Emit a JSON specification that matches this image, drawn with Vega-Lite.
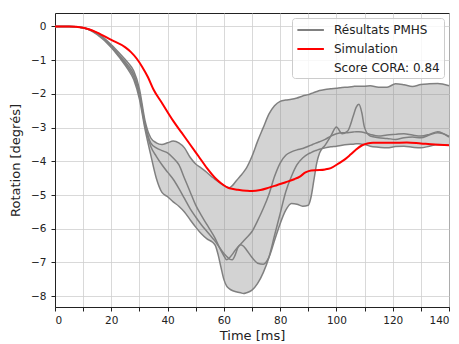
{
"$schema":"https://vega.github.io/schema/vega-lite/v6.json",
"width":394,"height":294,
"autosize":"none",
"padding":{"left":55,"top":13,"right":10,"bottom":37},
"config":{
"font":"DejaVu Sans",
"view":{"stroke":"#222","strokeWidth":1},
"axis":{"gridColor":"#cfcfcf","gridWidth":0.8,"domainColor":"#222","tickColor":"#222","labelColor":"#222","titleColor":"#222","labelFontSize":10.5,"titleFontSize":13,"titleFontWeight":"normal","tickSize":4},
"axisX":{"title":"Time [ms]","values":[0,20,40,60,80,100,120,140],"labelPadding":4,"titlePadding":4},
"axisY":{"title":"Rotation [degrés]","values":[-8,-7,-6,-5,-4,-3,-2,-1,0],"labelPadding":5,"titlePadding":8}
},
"datasets":{
"pmhs":[
{"t":0,"r":1,"v":0},{"t":5,"r":1,"v":0},{"t":10,"r":1,"v":-0.04},{"t":15,"r":1,"v":-0.19},{"t":20,"r":1,"v":-0.54},{"t":23,"r":1,"v":-0.8},{"t":26,"r":1,"v":-1.08},{"t":28,"r":1,"v":-1.32},{"t":30,"r":1,"v":-1.85},{"t":32,"r":1,"v":-2.8},{"t":34,"r":1,"v":-3.3},{"t":36,"r":1,"v":-3.45},{"t":38,"r":1,"v":-3.5},{"t":40,"r":1,"v":-3.45},{"t":42,"r":1,"v":-3.4},{"t":44,"r":1,"v":-3.45},{"t":46,"r":1,"v":-3.6},{"t":48,"r":1,"v":-3.88},{"t":50,"r":1,"v":-4.08},{"t":52,"r":1,"v":-4.2},{"t":54,"r":1,"v":-4.33},{"t":56,"r":1,"v":-4.48},{"t":57,"r":1,"v":-4.54},{"t":58,"r":1,"v":-4.6},{"t":59,"r":1,"v":-4.66},{"t":60,"r":1,"v":-4.72},{"t":61,"r":1,"v":-4.76},{"t":62,"r":1,"v":-4.78},{"t":63,"r":1,"v":-4.72},{"t":64,"r":1,"v":-4.62},{"t":65,"r":1,"v":-4.52},{"t":66,"r":1,"v":-4.42},{"t":67,"r":1,"v":-4.32},{"t":68,"r":1,"v":-4.2},{"t":70,"r":1,"v":-3.85},{"t":72,"r":1,"v":-3.4},{"t":74,"r":1,"v":-3.0},{"t":76,"r":1,"v":-2.6},{"t":78,"r":1,"v":-2.35},{"t":80,"r":1,"v":-2.22},{"t":82,"r":1,"v":-2.18},{"t":84,"r":1,"v":-2.16},{"t":86,"r":1,"v":-2.12},{"t":88,"r":1,"v":-2.06},{"t":90,"r":1,"v":-2.02},{"t":91,"r":1,"v":-1.99},{"t":92,"r":1,"v":-1.96},{"t":93,"r":1,"v":-1.93},{"t":94,"r":1,"v":-1.9},{"t":96,"r":1,"v":-1.87},{"t":98,"r":1,"v":-1.85},{"t":100,"r":1,"v":-1.83},{"t":102,"r":1,"v":-1.81},{"t":104,"r":1,"v":-1.8},{"t":106,"r":1,"v":-1.78},{"t":107,"r":1,"v":-1.77},{"t":108,"r":1,"v":-1.77},{"t":109,"r":1,"v":-1.77},{"t":110,"r":1,"v":-1.77},{"t":112,"r":1,"v":-1.76},{"t":115,"r":1,"v":-1.8},{"t":118,"r":1,"v":-1.8},{"t":121,"r":1,"v":-1.7},{"t":124,"r":1,"v":-1.73},{"t":127,"r":1,"v":-1.78},{"t":130,"r":1,"v":-1.72},{"t":133,"r":1,"v":-1.7},{"t":136,"r":1,"v":-1.69},{"t":140,"r":1,"v":-1.76},
{"t":0,"r":2,"v":0},{"t":5,"r":2,"v":0},{"t":10,"r":2,"v":-0.04},{"t":15,"r":2,"v":-0.21},{"t":20,"r":2,"v":-0.58},{"t":23,"r":2,"v":-0.87},{"t":26,"r":2,"v":-1.16},{"t":28,"r":2,"v":-1.42},{"t":30,"r":2,"v":-1.98},{"t":32,"r":2,"v":-2.9},{"t":34,"r":2,"v":-3.45},{"t":36,"r":2,"v":-3.6},{"t":38,"r":2,"v":-3.68},{"t":40,"r":2,"v":-3.75},{"t":42,"r":2,"v":-3.9},{"t":44,"r":2,"v":-4.1},{"t":46,"r":2,"v":-4.5},{"t":48,"r":2,"v":-4.9},{"t":50,"r":2,"v":-5.3},{"t":52,"r":2,"v":-5.6},{"t":54,"r":2,"v":-5.88},{"t":56,"r":2,"v":-6.15},{"t":57,"r":2,"v":-6.3},{"t":58,"r":2,"v":-6.48},{"t":59,"r":2,"v":-6.65},{"t":60,"r":2,"v":-6.8},{"t":61,"r":2,"v":-6.92},{"t":62,"r":2,"v":-6.86},{"t":63,"r":2,"v":-6.76},{"t":64,"r":2,"v":-6.64},{"t":65,"r":2,"v":-6.54},{"t":66,"r":2,"v":-6.45},{"t":67,"r":2,"v":-6.36},{"t":68,"r":2,"v":-6.27},{"t":70,"r":2,"v":-6.08},{"t":72,"r":2,"v":-5.76},{"t":74,"r":2,"v":-5.4},{"t":76,"r":2,"v":-4.98},{"t":78,"r":2,"v":-4.45},{"t":80,"r":2,"v":-4.05},{"t":82,"r":2,"v":-3.82},{"t":84,"r":2,"v":-3.72},{"t":86,"r":2,"v":-3.66},{"t":88,"r":2,"v":-3.62},{"t":90,"r":2,"v":-3.55},{"t":91,"r":2,"v":-3.52},{"t":92,"r":2,"v":-3.48},{"t":93,"r":2,"v":-3.45},{"t":94,"r":2,"v":-3.42},{"t":96,"r":2,"v":-3.35},{"t":98,"r":2,"v":-3.25},{"t":100,"r":2,"v":-3.18},{"t":102,"r":2,"v":-3.15},{"t":104,"r":2,"v":-3.15},{"t":106,"r":2,"v":-3.13},{"t":107,"r":2,"v":-3.12},{"t":108,"r":2,"v":-3.12},{"t":109,"r":2,"v":-3.13},{"t":110,"r":2,"v":-3.15},{"t":112,"r":2,"v":-3.2},{"t":115,"r":2,"v":-3.25},{"t":118,"r":2,"v":-3.22},{"t":121,"r":2,"v":-3.2},{"t":124,"r":2,"v":-3.18},{"t":127,"r":2,"v":-3.22},{"t":130,"r":2,"v":-3.25},{"t":133,"r":2,"v":-3.2},{"t":136,"r":2,"v":-3.12},{"t":140,"r":2,"v":-3.28},
{"t":0,"r":3,"v":0},{"t":5,"r":3,"v":0},{"t":10,"r":3,"v":-0.04},{"t":15,"r":3,"v":-0.22},{"t":20,"r":3,"v":-0.6},{"t":23,"r":3,"v":-0.9},{"t":26,"r":3,"v":-1.22},{"t":28,"r":3,"v":-1.5},{"t":30,"r":3,"v":-2.05},{"t":32,"r":3,"v":-2.95},{"t":34,"r":3,"v":-3.55},{"t":36,"r":3,"v":-3.85},{"t":38,"r":3,"v":-4.1},{"t":40,"r":3,"v":-4.32},{"t":42,"r":3,"v":-4.53},{"t":44,"r":3,"v":-4.8},{"t":46,"r":3,"v":-5.1},{"t":48,"r":3,"v":-5.4},{"t":50,"r":3,"v":-5.65},{"t":52,"r":3,"v":-5.88},{"t":54,"r":3,"v":-6.08},{"t":56,"r":3,"v":-6.28},{"t":57,"r":3,"v":-6.38},{"t":58,"r":3,"v":-6.5},{"t":59,"r":3,"v":-6.62},{"t":60,"r":3,"v":-6.73},{"t":61,"r":3,"v":-6.82},{"t":62,"r":3,"v":-6.9},{"t":63,"r":3,"v":-6.92},{"t":64,"r":3,"v":-6.78},{"t":65,"r":3,"v":-6.55},{"t":66,"r":3,"v":-6.47},{"t":67,"r":3,"v":-6.52},{"t":68,"r":3,"v":-6.62},{"t":70,"r":3,"v":-6.85},{"t":72,"r":3,"v":-7.02},{"t":74,"r":3,"v":-7.05},{"t":76,"r":3,"v":-6.85},{"t":78,"r":3,"v":-6.35},{"t":80,"r":3,"v":-5.85},{"t":82,"r":3,"v":-5.45},{"t":84,"r":3,"v":-5.25},{"t":86,"r":3,"v":-5.27},{"t":88,"r":3,"v":-5.33},{"t":90,"r":3,"v":-5.3},{"t":91,"r":3,"v":-5.05},{"t":92,"r":3,"v":-4.55},{"t":93,"r":3,"v":-4.05},{"t":94,"r":3,"v":-3.75},{"t":96,"r":3,"v":-3.52},{"t":98,"r":3,"v":-3.25},{"t":100,"r":3,"v":-2.98},{"t":102,"r":3,"v":-3.18},{"t":104,"r":3,"v":-3.1},{"t":106,"r":3,"v":-2.65},{"t":107,"r":3,"v":-2.4},{"t":108,"r":3,"v":-2.31},{"t":109,"r":3,"v":-2.55},{"t":110,"r":3,"v":-3.0},{"t":112,"r":3,"v":-3.25},{"t":115,"r":3,"v":-3.3},{"t":118,"r":3,"v":-3.32},{"t":121,"r":3,"v":-3.35},{"t":124,"r":3,"v":-3.3},{"t":127,"r":3,"v":-3.28},{"t":130,"r":3,"v":-3.3},{"t":133,"r":3,"v":-3.22},{"t":136,"r":3,"v":-3.15},{"t":140,"r":3,"v":-3.25},
{"t":0,"r":4,"v":0},{"t":5,"r":4,"v":0},{"t":10,"r":4,"v":-0.04},{"t":15,"r":4,"v":-0.24},{"t":20,"r":4,"v":-0.62},{"t":23,"r":4,"v":-0.93},{"t":26,"r":4,"v":-1.28},{"t":28,"r":4,"v":-1.58},{"t":30,"r":4,"v":-2.15},{"t":32,"r":4,"v":-3.05},{"t":34,"r":4,"v":-3.8},{"t":36,"r":4,"v":-4.5},{"t":38,"r":4,"v":-4.92},{"t":40,"r":4,"v":-5.05},{"t":42,"r":4,"v":-5.2},{"t":44,"r":4,"v":-5.33},{"t":46,"r":4,"v":-5.5},{"t":48,"r":4,"v":-5.73},{"t":50,"r":4,"v":-5.95},{"t":52,"r":4,"v":-6.15},{"t":54,"r":4,"v":-6.3},{"t":56,"r":4,"v":-6.4},{"t":57,"r":4,"v":-6.5},{"t":58,"r":4,"v":-6.78},{"t":59,"r":4,"v":-7.15},{"t":60,"r":4,"v":-7.5},{"t":61,"r":4,"v":-7.7},{"t":62,"r":4,"v":-7.78},{"t":63,"r":4,"v":-7.83},{"t":64,"r":4,"v":-7.86},{"t":65,"r":4,"v":-7.88},{"t":66,"r":4,"v":-7.9},{"t":67,"r":4,"v":-7.92},{"t":68,"r":4,"v":-7.9},{"t":70,"r":4,"v":-7.82},{"t":72,"r":4,"v":-7.62},{"t":74,"r":4,"v":-7.3},{"t":76,"r":4,"v":-6.85},{"t":78,"r":4,"v":-6.2},{"t":80,"r":4,"v":-5.55},{"t":82,"r":4,"v":-4.9},{"t":84,"r":4,"v":-4.45},{"t":86,"r":4,"v":-4.1},{"t":88,"r":4,"v":-3.9},{"t":90,"r":4,"v":-3.78},{"t":91,"r":4,"v":-3.74},{"t":92,"r":4,"v":-3.7},{"t":93,"r":4,"v":-3.67},{"t":94,"r":4,"v":-3.64},{"t":96,"r":4,"v":-3.6},{"t":98,"r":4,"v":-3.57},{"t":100,"r":4,"v":-3.55},{"t":102,"r":4,"v":-3.52},{"t":104,"r":4,"v":-3.5},{"t":106,"r":4,"v":-3.49},{"t":107,"r":4,"v":-3.48},{"t":108,"r":4,"v":-3.48},{"t":109,"r":4,"v":-3.49},{"t":110,"r":4,"v":-3.5},{"t":112,"r":4,"v":-3.55},{"t":115,"r":4,"v":-3.58},{"t":118,"r":4,"v":-3.6},{"t":121,"r":4,"v":-3.56},{"t":124,"r":4,"v":-3.55},{"t":127,"r":4,"v":-3.58},{"t":130,"r":4,"v":-3.6},{"t":133,"r":4,"v":-3.55},{"t":136,"r":4,"v":-3.5},{"t":140,"r":4,"v":-3.52}
],
"sim":[
{"t":0,"v":0},{"t":5,"v":0},{"t":10,"v":-0.04},{"t":12,"v":-0.08},{"t":15,"v":-0.18},{"t":20,"v":-0.4},{"t":25,"v":-0.62},{"t":27,"v":-0.76},{"t":29,"v":-0.95},{"t":31,"v":-1.2},{"t":33,"v":-1.5},{"t":35,"v":-1.87},{"t":38,"v":-2.27},{"t":42,"v":-2.8},{"t":45,"v":-3.15},{"t":48,"v":-3.5},{"t":51,"v":-3.85},{"t":54,"v":-4.2},{"t":57,"v":-4.5},{"t":59,"v":-4.65},{"t":62,"v":-4.8},{"t":65,"v":-4.84},{"t":68,"v":-4.87},{"t":70,"v":-4.88},{"t":73,"v":-4.85},{"t":76,"v":-4.78},{"t":79,"v":-4.7},{"t":82,"v":-4.62},{"t":85,"v":-4.53},{"t":87,"v":-4.45},{"t":89,"v":-4.33},{"t":91,"v":-4.27},{"t":94,"v":-4.26},{"t":96,"v":-4.24},{"t":98,"v":-4.2},{"t":101,"v":-4.05},{"t":103,"v":-3.94},{"t":105,"v":-3.8},{"t":107,"v":-3.65},{"t":109,"v":-3.53},{"t":111,"v":-3.47},{"t":113,"v":-3.45},{"t":120,"v":-3.45},{"t":125,"v":-3.44},{"t":130,"v":-3.47},{"t":135,"v":-3.5},{"t":140,"v":-3.52}
]
},
"layer":[
{"data":{"name":"pmhs"},
"transform":[{"aggregate":[{"op":"min","field":"v","as":"lo"},{"op":"max","field":"v","as":"hi"}],"groupby":["t"]}],
"mark":{"type":"area","interpolate":"monotone","color":"#808080","opacity":0.35},
"encoding":{
"x":{"field":"t","type":"quantitative","scale":{"domain":[0,140],"nice":false},"title":"Time [ms]"},
"y":{"field":"lo","type":"quantitative","scale":{"domain":[-8.32,0.4],"nice":false,"zero":false},"title":"Rotation [degrés]"},
"y2":{"field":"hi"}}},
{"data":{"name":"pmhs"},
"mark":{"type":"line","interpolate":"monotone","strokeWidth":1.5},
"encoding":{
"x":{"field":"t","type":"quantitative","title":"Time [ms]"},
"y":{"field":"v","type":"quantitative","title":"Rotation [degrés]"},
"detail":{"field":"r","type":"nominal"},
"color":{"datum":"Résultats PMHS","type":"nominal","scale":{"domain":["Résultats PMHS","Simulation","Score CORA: 0.84"],"range":["#808080","#ff0000","rgba(0,0,0,0)"]},
"legend":{"title":null,"orient":"none","legendX":237,"legendY":5,"symbolType":"M-1,0H3","symbolSize":176,"symbolStrokeWidth":2,"labelFontSize":12,"labelColor":"#222","labelOffset":22,"padding":4,"rowPadding":5,"fillColor":"rgba(255,255,255,0.8)","strokeColor":"#cccccc","cornerRadius":3}}}},
{"data":{"name":"sim"},
"mark":{"type":"line","interpolate":"monotone","strokeWidth":2},
"encoding":{
"x":{"field":"t","type":"quantitative","title":"Time [ms]"},
"y":{"field":"v","type":"quantitative","title":"Rotation [degrés]"},
"color":{"datum":"Simulation","type":"nominal"}}}
]
}
